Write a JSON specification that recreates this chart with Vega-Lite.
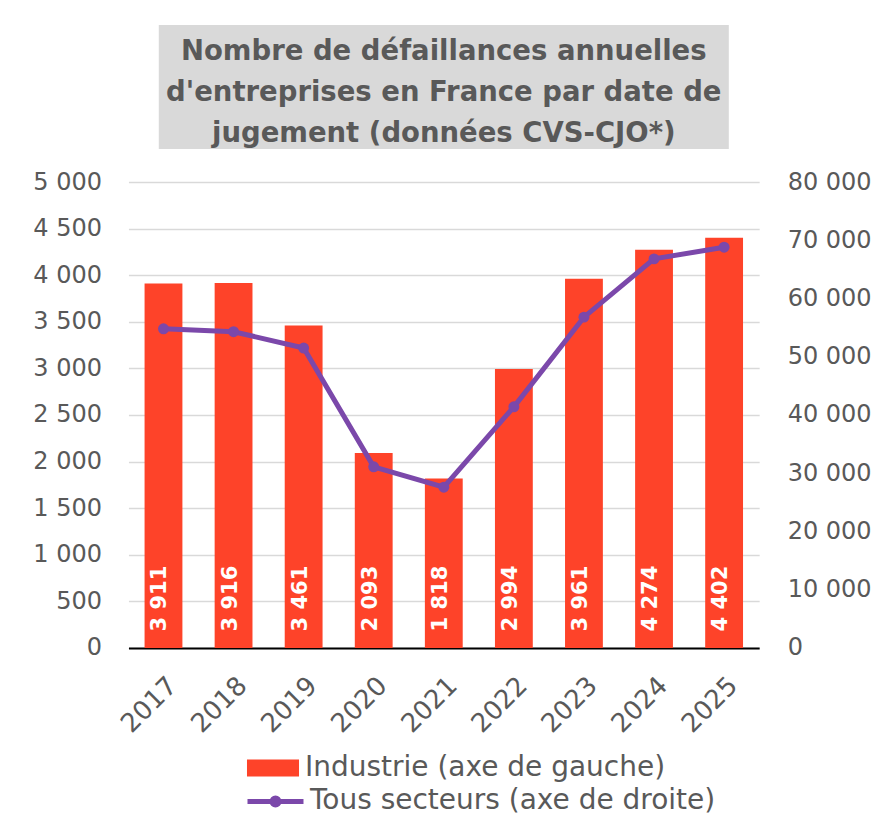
{
  "$schema": "https://vega.github.io/schema/vega-lite/v6.json",
  "padding": {"left": 32.3, "top": 25, "right": 0, "bottom": 0},
  "bounds": "flush",
  "center": true,
  "spacing": 33,
  "config": {
    "font": "DejaVu Sans",
    "view": {"stroke": null},
    "locale": {"number": {"decimal": ",", "thousands": "\u00a0", "grouping": [3], "currency": ["", " €"]}}
  },
  "datasets": {
    "titre": [
      {"ligne": 1, "texte": "Nombre de défaillances annuelles"},
      {"ligne": 2, "texte": "d'entreprises en France par date de"},
      {"ligne": 3, "texte": "jugement (données CVS-CJO*)"}
    ],
    "defaillances": [
      {"annee": "2017", "industrie": 3911, "tous": 54800},
      {"annee": "2018", "industrie": 3916, "tous": 54300},
      {"annee": "2019", "industrie": 3461, "tous": 51500},
      {"annee": "2020", "industrie": 2093, "tous": 31100},
      {"annee": "2021", "industrie": 1818, "tous": 27600},
      {"annee": "2022", "industrie": 2994, "tous": 41400},
      {"annee": "2023", "industrie": 3961, "tous": 56800},
      {"annee": "2024", "industrie": 4274, "tous": 66800},
      {"annee": "2025", "industrie": 4402, "tous": 68800}
    ]
  },
  "vconcat": [
    {
      "width": 570,
      "height": 124,
      "view": {"fill": "#d9d9d9", "stroke": null},
      "data": {"name": "titre"},
      "mark": {"type": "text", "font": "DejaVu Sans", "fontWeight": "bold", "fontSize": 27.5, "color": "#595959", "baseline": "middle", "align": "center", "dy": 6},
      "encoding": {
        "y": {"field": "ligne", "type": "ordinal", "axis": null},
        "text": {"field": "texte"}
      }
    },
    {
      "width": 630.7,
      "height": 466,
      "data": {"name": "defaillances"},
      "resolve": {"scale": {"y": "independent"}},
      "layer": [
        {
          "layer": [
            {
              "mark": {"type": "bar"},
              "encoding": {
                "x": {
                  "field": "annee", "type": "ordinal",
                  "scale": {"paddingInner": 0.46, "paddingOuter": 0.23},
                  "axis": {
                    "title": null, "labelAngle": -45, "labelAlign": "right", "labelBaseline": "top",
                    "labelFontSize": 26, "labelColor": "#595959", "labelPadding": 24,
                    "ticks": false, "tickSize": 0, "domain": true, "domainColor": "#000000", "domainWidth": 2
                  }
                },
                "y": {
                  "field": "industrie", "type": "quantitative",
                  "scale": {"domain": [0, 5000], "nice": false},
                  "axis": {
                    "title": null, "values": [0, 500, 1000, 1500, 2000, 2500, 3000, 3500, 4000, 4500, 5000],
                    "format": ",d", "labelFontSize": 24, "labelColor": "#595959", "labelPadding": 27,
                    "ticks": false, "tickSize": 0, "domain": false,
                    "grid": true, "gridColor": "#d9d9d9", "gridWidth": 1.5
                  }
                },
                "fill": {
                  "datum": "Industrie (axe de gauche)",
                  "scale": {"range": ["#fe4329"]},
                  "legend": {
                    "title": null, "orient": "none", "legendX": 116.7, "legendY": 715,
                    "symbolType": "M-0.929,-0.304L0.929,-0.304L0.929,0.304L-0.929,0.304Z",
                    "symbolSize": 3136, "symbolStrokeWidth": 0, "symbolOpacity": 1,
                    "labelFontSize": 28, "labelColor": "#595959", "labelOffset": 4, "labelLimit": 600, "padding": 0
                  }
                }
              }
            },
            {
              "mark": {"type": "text", "angle": 270, "align": "left", "baseline": "middle", "dx": 16.6, "dy": -3, "font": "DejaVu Sans", "fontWeight": "bold", "fontSize": 21, "color": "#ffffff"},
              "encoding": {
                "x": {"field": "annee", "type": "ordinal"},
                "y": {"datum": 0},
                "text": {"field": "industrie", "type": "quantitative", "format": ",d"}
              }
            }
          ]
        },
        {
          "layer": [
            {
              "mark": {"type": "line", "strokeWidth": 5},
              "encoding": {
                "x": {"field": "annee", "type": "ordinal"},
                "y": {
                  "field": "tous", "type": "quantitative",
                  "scale": {"domain": [0, 80000], "nice": false},
                  "axis": {
                    "title": null, "orient": "right",
                    "values": [0, 10000, 20000, 30000, 40000, 50000, 60000, 70000, 80000],
                    "format": ",d", "labelFontSize": 24, "labelColor": "#595959", "labelPadding": 28,
                    "ticks": false, "tickSize": 0, "domain": false, "grid": false
                  }
                },
                "stroke": {
                  "datum": "Tous secteurs (axe de droite)",
                  "scale": {"range": ["#7b48aa"]},
                  "legend": {
                    "title": null, "orient": "none", "legendX": 116.7, "legendY": 746,
                    "symbolType": "M-1,0L1,0M0.125,0A0.125,0.125,0,1,1,-0.125,0A0.125,0.125,0,1,1,0.125,0",
                    "symbolSize": 3136, "symbolStrokeWidth": 5, "symbolOpacity": 1,
                    "labelFontSize": 28, "labelColor": "#595959", "labelOffset": 4, "labelLimit": 600, "padding": 0
                  }
                }
              }
            },
            {
              "mark": {"type": "circle", "size": 120, "opacity": 1, "color": "#7b48aa"},
              "encoding": {
                "x": {"field": "annee", "type": "ordinal"},
                "y": {"field": "tous", "type": "quantitative"}
              }
            }
          ]
        }
      ]
    }
  ]
}
